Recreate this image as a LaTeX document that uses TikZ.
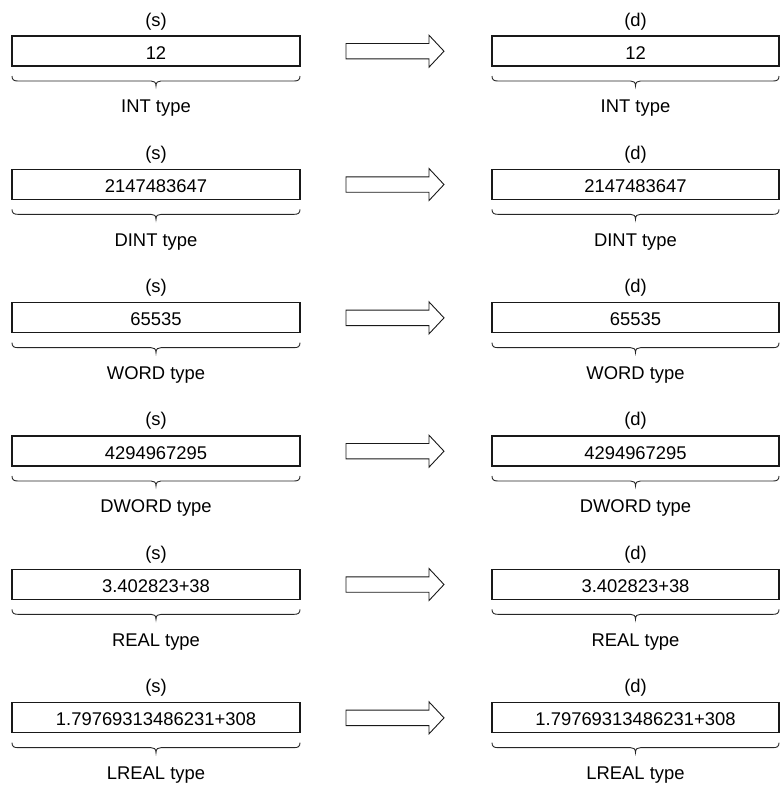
\documentclass[tikz,border=0pt]{standalone}
\usepackage{fontspec}
\setmainfont{Liberation Sans}
\begin{document}
\begin{tikzpicture}[x=1pt,y=-1pt,
  valbox/.style={draw=black!90, line width=1.3pt, minimum width=#1, minimum height=30pt, inner sep=0pt, text height=16.6pt, text depth=0pt, font=\fontsize{18.4}{22}\selectfont},
  lbl/.style={inner sep=0pt, anchor=base, font=\fontsize{18.4}{22}\selectfont},
  bracestyle/.style={line width=0.9pt, draw=black!85},
  bigarrow/.style={draw=black!90, line width=0.9pt, fill=white, line join=miter}
]
\path[use as bounding box] (0,0) rectangle (784,785);
\newcommand\typebrace[4]{% left x, center x, right x, top y
  \draw[bracestyle] (#1,#4) .. controls (#1,#4+4) and (#1+2,#4+5) .. (#1+6,#4+5)
    -- (#2-5,#4+5) .. controls (#2-2,#4+5) and (#2,#4+6) .. (#2,#4+10)
    .. controls (#2,#4+6) and (#2+2,#4+5) .. (#2+5,#4+5)
    -- (#3-6,#4+5) .. controls (#3-2,#4+5) and (#3,#4+4) .. (#3,#4);
}
\foreach \k/\val/\typ in {0/12/INT, 1/2147483647/DINT, 2/65535/WORD, 3/4294967295/DWORD, 4/3.402823+38/REAL, 5/1.79769313486231+308/LREAL} {
  \pgfmathsetmacro{\dy}{133.33*\k}
  % source
  \node[lbl] (sl\k) at (156,26+\dy) {(s)};
  \node[valbox=288pt] (s\k) at (156,51+\dy) {\val};
  \typebrace{12}{156}{300}{76+\dy}
  \node[lbl] (st\k) at (156,112.7+\dy) {\typ\ type};
  % destination
  \node[lbl] (dl\k) at (635.5,26+\dy) {(d)};
  \node[valbox=287pt] (d\k) at (635.5,51+\dy) {\val};
  \typebrace{492}{635.5}{779}{76+\dy}
  \node[lbl] (dt\k) at (635.5,112.7+\dy) {\typ\ type};
  % arrow
  \coordinate (a\k) at (346,51+\dy);
  \draw[bigarrow] (a\k) ++(0,-7.5) -- ++(83,0) -- ++(0,-8.3) -- ++(15,16) -- ++(-15,16) -- ++(0,-8.3) -- ++(-83,0) -- cycle;
}
\end{tikzpicture}
\end{document}
